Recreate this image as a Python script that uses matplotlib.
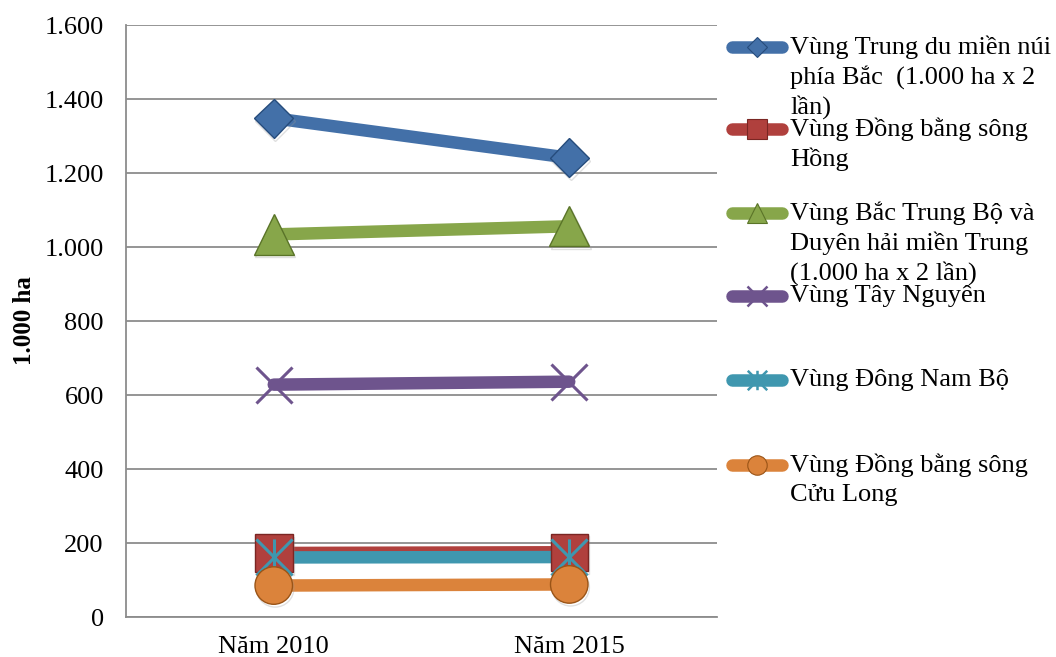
import matplotlib
matplotlib.use("Agg")
import matplotlib.pyplot as plt
import matplotlib.patheffects as pe
from matplotlib.lines import Line2D
from matplotlib.path import Path
from matplotlib.ticker import FixedLocator, FuncFormatter

plt.rcParams["font.family"] = ["Liberation Serif", "DejaVu Serif"]

years = ["Năm 2010", "Năm 2015"]
regions = [
    ["Vùng Trung du miền núi", "phía Bắc  (1.000 ha x 2", "lần)"],
    ["Vùng Đồng bằng sông", "Hồng"],
    ["Vùng Bắc Trung Bộ và", "Duyên hải miền Trung", "(1.000 ha x 2 lần)"],
    ["Vùng Tây Nguyên"],
    ["Vùng Đông Nam Bộ"],
    ["Vùng Đồng bằng sông", "Cửu Long"],
]
trung_du = [1348, 1241]
dong_bang_hong = [173, 175]
bac_trung_bo = [1034, 1056]
tay_nguyen = [628, 636]
dong_nam_bo = [161, 162]
cuu_long = [85, 88]
y_ticks = [0, 200, 400, 600, 800, 1000, 1200, 1400, 1600]

star = Path(
    [(-1, -1), (1, 1), (-1, 1), (1, -1), (0, -1), (0, 1)],
    [Path.MOVETO, Path.LINETO, Path.MOVETO, Path.LINETO, Path.MOVETO, Path.LINETO],
)

# colour, marker, size in plot, size in legend, filled
styles = [
    ("#4370A8", "D", 20, 10, True),
    ("#B0403D", "s", 27, 14, True),
    ("#87A64A", "^", 29, 15, True),
    ("#6E548D", "x", 26, 14, False),
    ("#3F97AF", star, 26, 14, False),
    ("#DB833B", "o", 27, 14, True),
]
edges = ["#264C7C", "#7A2623", "#5A7428", "#6E548D", "#3F97AF", "#9A5417"]
series = [trung_du, dong_bang_hong, bac_trung_bo, tay_nguyen, dong_nam_bo, cuu_long]

fig = plt.figure(figsize=(10.56, 6.57), dpi=100)
ax = fig.add_axes([126 / 1056, 1 - 617 / 657, 591 / 1056, 592 / 657])

shadow = [pe.SimpleLineShadow(offset=(1.0, -2.0), shadow_color="#999999", alpha=0.3), pe.Normal()]

x = list(range(len(years)))
for values, (color, marker, ms, _, filled), edge in zip(series, styles, edges):
    ax.plot(x, values, color=color, lw=9, solid_capstyle="round", zorder=3)
    if filled:
        ax.plot(x, values, ls="none", marker=marker, ms=ms, mfc=color, mec=edge,
                mew=1.0, zorder=4, path_effects=shadow)
    else:
        ax.plot(x, values, ls="none", marker=marker, ms=ms, mec=color,
                mew=2.2, zorder=4)

ax.set_xlim(-0.5, 1.5)
ax.set_ylim(0, 1600)
ax.yaxis.set_major_locator(FixedLocator(y_ticks))
ax.yaxis.set_major_formatter(FuncFormatter(lambda v, _: f"{int(v):,}".replace(",", ".")))
ax.set_xticks(x)
ax.set_xticklabels(years)
ax.tick_params(axis="both", length=0, labelsize=19)
ax.tick_params(axis="y", pad=16)
ax.tick_params(axis="x", pad=14)
ax.grid(axis="y", color="#8C8C8C", lw=1.3)
ax.set_axisbelow(True)
for side in ("top", "right"):
    ax.spines[side].set_visible(False)
for side in ("left", "bottom"):
    ax.spines[side].set_color("#8C8C8C")
    ax.spines[side].set_linewidth(1.3)
ax.set_ylabel("1.000 ha", fontsize=18, fontweight="bold")
ax.yaxis.set_label_coords(-90 / 591, 0.5)

# legend laid out in pixel coordinates on an overlay axes
lg = fig.add_axes([0, 0, 1, 1])
lg.set_xlim(0, 1056)
lg.set_ylim(657, 0)
lg.axis("off")
entry_y = [47, 129, 213, 296, 380, 465]
for y0, lines, (color, marker, _, lms, filled), edge in zip(entry_y, regions, styles, edges):
    lg.add_line(Line2D([732, 782], [y0, y0], color=color, lw=9, solid_capstyle="round"))
    if filled:
        lg.add_line(Line2D([757], [y0], ls="none", marker=marker, ms=lms, mfc=color, mec=edge, mew=0.8))
    else:
        lg.add_line(Line2D([757], [y0], ls="none", marker=marker, ms=lms, mec=color, mew=1.8))
    for i, text in enumerate(lines):
        lg.text(790, y0 + i * 30, text, fontsize=19, va="center", ha="left")

fig.savefig("out.png", dpi=100)
